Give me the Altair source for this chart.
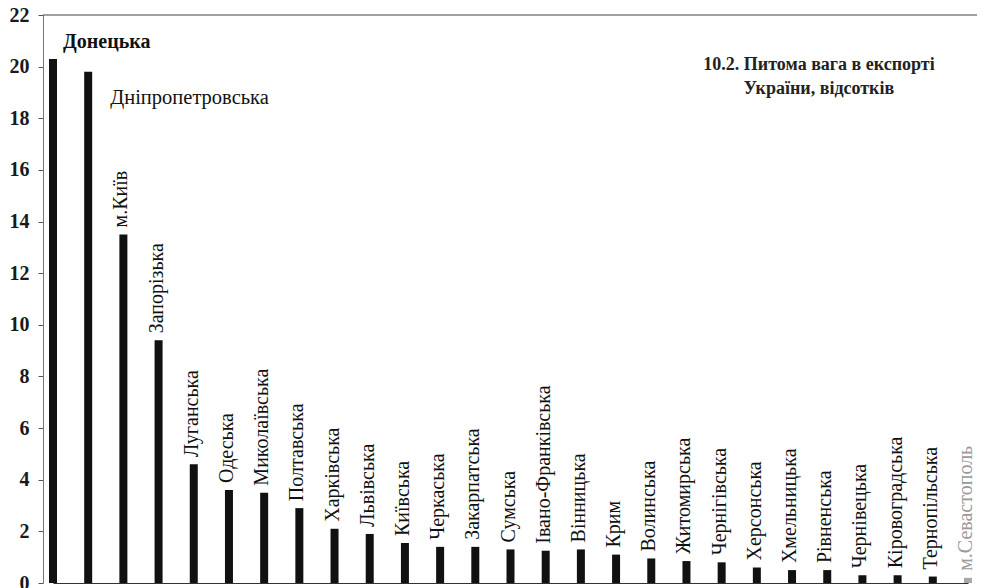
import altair as alt
import pandas as pd

regions = [
    "Донецька", "Дніпропетровська", "м.Київ", "Запорізька", "Луганська",
    "Одеська", "Миколаївська", "Полтавська", "Харківська", "Львівська",
    "Київська", "Черкаська", "Закарпатська", "Сумська", "Івано-Франківська",
    "Вінницька", "Крим", "Волинська", "Житомирська", "Чернігівська",
    "Херсонська", "Хмельницька", "Рівненська", "Чернівецька", "Кіровоградська",
    "Тернопільська", "м.Севастополь",
]
shares = [
    20.3, 19.8, 13.5, 9.4, 4.6,
    3.6, 3.5, 2.9, 2.1, 1.9,
    1.55, 1.4, 1.4, 1.3, 1.25,
    1.3, 1.1, 0.95, 0.85, 0.8,
    0.6, 0.5, 0.5, 0.3, 0.3,
    0.25, 0.2,
]
y_ticks = list(range(0, 23, 2))
title_lines = ["10.2. Питома вага в експорті", "України, відсотків"]

df = pd.DataFrame({"region": regions, "share": shares, "rank": list(range(len(regions)))})

FONT = "Times New Roman, Liberation Serif, DejaVu Serif, serif"

x_enc = alt.X("region:N", sort=regions,
              scale=alt.Scale(type="point", range=[10, 925], padding=0),
              axis=alt.Axis(labels=False, ticks=False, title=None,
                            domainColor="#333", domainWidth=1.2))
y_enc = alt.Y("share:Q",
              scale=alt.Scale(domain=[0, 22], nice=False, zero=True),
              axis=alt.Axis(values=y_ticks, title=None, grid=False,
                            labelFont=FONT, labelFontSize=20, labelFontWeight="bold",
                            labelColor="#1a1a1a", tickSize=5, tickColor="#555",
                            labelPadding=9, domainColor="#777", domainWidth=1))

base = alt.Chart(df)

bars = base.mark_bar(size=8).encode(
    x=x_enc, y=y_enc,
    color=alt.condition(alt.datum.region == "м.Севастополь",
                        alt.value("#a8a8a8"), alt.value("#111111")),
)

vert_labels = base.transform_filter("datum.rank >= 2").mark_text(
    angle=270, align="left", baseline="middle", dx=7, dy=-2,
    font=FONT, fontSize=20,
).encode(
    x=alt.X("region:N", sort=regions), y="share:Q", text="region:N",
    color=alt.condition(alt.datum.region == "м.Севастополь",
                        alt.value("#9a9a9a"), alt.value("#111111")),
)

donetsk_label = base.transform_filter("datum.rank == 0").mark_text(
    align="left", baseline="middle", dx=10, dy=-17,
    font=FONT, fontSize=20, fontWeight="bold", color="#111",
).encode(x=alt.X("region:N", sort=regions), y="share:Q", text="region:N")

dnipro_label = base.transform_filter("datum.rank == 1").mark_text(
    align="left", baseline="middle", dx=22, dy=26,
    font=FONT, fontSize=20.5, color="#111",
).encode(x=alt.X("region:N", sort=regions), y="share:Q", text="region:N")

top_line = alt.Chart(pd.DataFrame({"v": [22]})).mark_rule(
    color="#444", strokeWidth=1.2
).encode(y=alt.Y("v:Q"))

title = alt.Chart(pd.DataFrame({"a": [0]})).mark_text(
    text=title_lines, align="center", baseline="top", lineHeight=24,
    font=FONT, fontSize=18, fontWeight="bold", color="#222",
).encode(x=alt.value(776), y=alt.value(41))

chart = alt.layer(bars, top_line, vert_labels, donetsk_label, dnipro_label, title).properties(
    width=934, height=568,
    autosize=alt.AutoSizeParams(type="none"),
    padding={"left": 35, "top": 7, "right": 0, "bottom": 5},
    background="white",
).configure_view(stroke=None)

chart.save("out.html", embed_options={"renderer": "svg", "actions": False})
